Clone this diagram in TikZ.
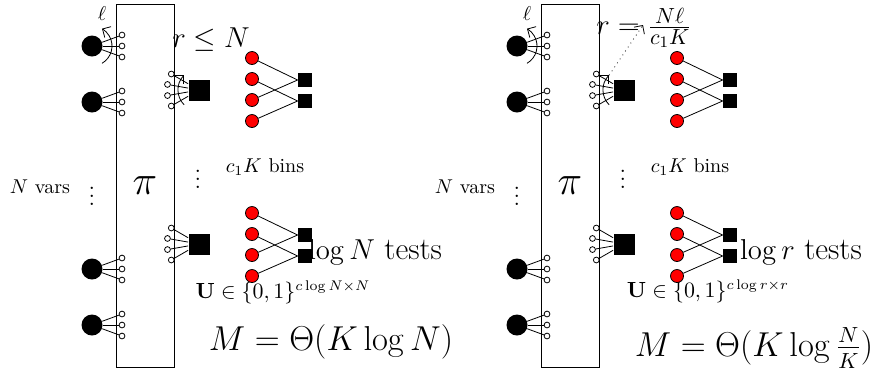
\documentclass[tikz,border=0pt]{standalone}
\usepackage{amsmath,amssymb}
\usepackage{tikz}
\usetikzlibrary{arrows.meta,calc}

\tikzset{
	var/.style={circle, fill=black, inner sep=0pt, minimum size=10.5pt},
	port/.style={circle, draw, fill=white, inner sep=0pt, minimum size=2.9pt},
	bin/.style={fill=black, inner sep=0pt, minimum size=10.5pt},
	test/.style={fill=black, inner sep=0pt, minimum size=7pt},
	item/.style={circle, draw, fill=red, inner sep=0pt, minimum size=6.5pt},
	bigtext/.style={font=\fontsize{15.7}{19}\selectfont},
	meastext/.style={font=\fontsize{15.9}{19}\selectfont},
}

\begin{document}
\begin{tikzpicture}[x=0.5pt, y=-0.5pt, >={Straight Barb[length=1.1mm]}]
	\useasboundingbox (0,0) rectangle (871,371);
	% labels of the two panels (drawn first, the tests cover the l of log)
	\node[bigtext, font=\fontsize{15}{18}\selectfont] (a-size) at (211,40) {$r \leq N$};
	\node[bigtext] (a-tests) at (375,252) {$\log N$ tests};
	\node[font=\fontsize{10.6}{13}\selectfont] (a-code) at (283,292) {$\mathbf{U}\in\{0,1\}^{c\log N\times N}$};
	\node[meastext] (a-meas) at (331,342) {$M=\Theta(K\log N)$};
	\node[bigtext] (b-size) at (644,28) {$r=\frac{N\ell}{c_1K}$};
	\node[bigtext] (b-tests) at (801,252) {$\log r$ tests};
	\node[font=\fontsize{10.6}{13}\selectfont] (b-code) at (708,291) {$\mathbf{U}\in\{0,1\}^{c\log r\times r}$};
	\node[meastext] (b-meas) at (754,348) {$M=\Theta(K\log\frac{N}{K})$};
	\foreach \p/\dx in {a/0, b/425} {
	\begin{scope}[xshift=\dx*0.5pt]
		\node[draw, inner sep=0pt, minimum width=29pt, minimum height=181.5pt, font=\huge] (\p-box) at (145,185.5) {$\pi$};
		% variables
		\foreach \y [count=\i] in {46,102,269,325} {
			\node[var] (\p-v\i) at (92,\y) {};
			\foreach \d [count=\j] in {-11,0,11} {
				\node[port] (\p-v\i-\j) at (122,\y+\d) {};
				\draw (\p-v\i) -- (\p-v\i-\j);
			}
		}
		\draw[->] ($(\p-v1)+(60:20)$) arc[start angle=60, end angle=-60, radius=20];
		\node (\p-ell) at (102,14) {$\ell$};
		\node[font=\large] (\p-vdots) at (92,190) {$\vdots$};
		\node (\p-nvars) at (40,187) {$N$ vars};
		% bins
		\foreach \y [count=\i] in {90,244} {
			\node[bin] (\p-b\i) at (199,\y) {};
			\foreach \a [count=\j] in {150,170,190,210} {
				\node[port] (\p-b\i-\j) at ($(\p-b\i)+(\a:32)$) {};
				\draw (\p-b\i) -- (\p-b\i-\j);
			}
		}
		\draw[->] ($(\p-b1)+(135:21)$) arc[start angle=135, end angle=225, radius=21];
		\coordinate (\p-arc) at ($(\p-b1)+(225:21)$);
		\node[font=\large] (\p-bdots) at (198,173) {$\vdots$};
		\node (\p-nbins) at (265,167) {$c_1K$ bins};
		% test design of each bin
		\foreach \g/\y in {1/58, 2/213} {
			\foreach \k in {0,...,3}
				\node[item] (\p-g\g-i\k) at (252,\y+21*\k) {};
			\node[test] (\p-g\g-t0) at (305,\y+22) {};
			\node[test] (\p-g\g-t1) at (305,\y+43) {};
			\draw (\p-g\g-i0) -- (\p-g\g-t0.west);
			\draw (\p-g\g-i1) -- (\p-g\g-t1.west);
			\draw (\p-g\g-i2) -- (\p-g\g-t0.west);
			\draw (\p-g\g-i3) -- (\p-g\g-t1.west);
		}
	\end{scope}
	}
	\coordinate (b-tip) at (643,25);
	\draw[dotted, ->] (b-arc) -- (b-tip);
\end{tikzpicture}
\end{document}
